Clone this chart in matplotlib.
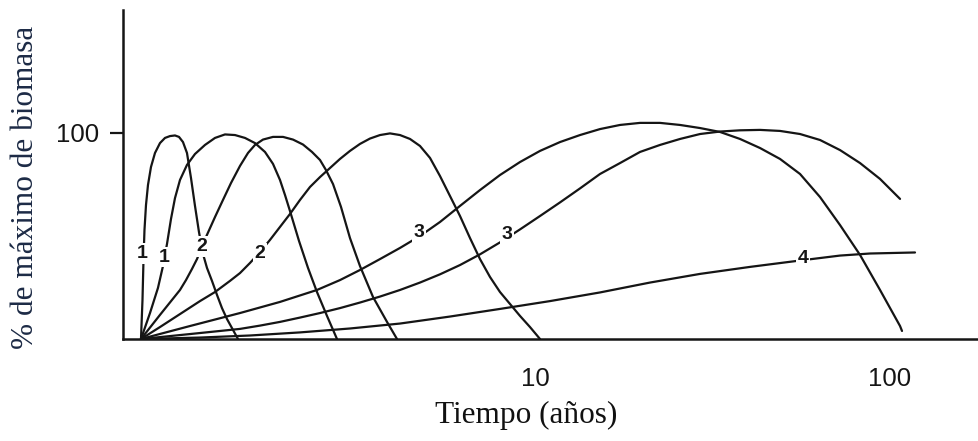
import matplotlib
matplotlib.use("Agg")
import matplotlib.pyplot as plt
from matplotlib.ticker import FixedLocator, NullLocator

# Tiempo (años) y porcentaje del máximo de biomasa de cada curva
t_1a = [0.7765, 0.7841, 0.7892, 0.7943, 0.8021, 0.8126, 0.8285, 0.8503, 0.8783, 0.9073,
        0.9372, 0.9681, 0.9936, 1.0196, 1.0464, 1.0739, 1.1022, 1.1311, 1.1609, 1.1914,
        1.2307, 1.2713, 1.3131, 1.3564, 1.4011, 1.4567]
b_1a = [0, 18.9, 38.3, 52.9, 65.0, 74.8, 83.5, 90.3, 95.1, 97.6,
        98.5, 98.8, 98.1, 95.6, 90.3, 78.2, 64.6, 51.9, 41.3, 34.5,
        28.2, 21.4, 15.0, 9.7, 5.3, 0]

t_1b = [0.7765, 0.8232, 0.8669, 0.8955, 0.9191, 0.9434, 0.9681, 1.0000, 1.0464, 1.1022,
        1.1761, 1.2549, 1.3389, 1.4287, 1.5244, 1.6265, 1.7355, 1.8281, 1.9129, 1.9760,
        2.0412, 2.1640, 2.2941, 2.4316, 2.5947, 2.7684]
b_1b = [0, 12.6, 24.8, 35.4, 46.1, 58.3, 68.4, 77.2, 84.5, 89.8,
        94.2, 97.6, 99.3, 99.0, 97.6, 95.1, 90.8, 85.0, 77.2, 69.9,
        62.1, 47.6, 34.5, 22.8, 11.2, 0]

t_2a = [0.7765, 0.8783, 1.0000, 1.0397, 1.0809, 1.1166, 1.1838, 1.2549, 1.3216, 1.3920,
        1.4757, 1.5544, 1.6265, 1.7131, 1.8281, 1.9508, 2.0815, 2.2206, 2.3542, 2.4796,
        2.5779, 2.6982, 2.8416, 3.0120, 3.2141, 3.4970, 3.8296, 4.0859]
b_2a = [0, 11.7, 23.8, 28.6, 34.0, 38.8, 49.5, 59.2, 67.5, 75.7,
        84.0, 90.3, 94.2, 96.8, 98.1, 98.1, 96.8, 94.4, 90.8, 86.9,
        82.0, 75.2, 64.1, 49.0, 35.4, 20.4, 8.3, 0]

t_2b = [0.7765, 0.8783, 1.0000, 1.1385, 1.2549, 1.3830, 1.4757, 1.5746, 1.6802, 1.7928,
        1.9129, 2.0412, 2.1780, 2.3240, 2.4796, 2.6458, 2.8228, 3.0120, 3.2141, 3.4293,
        3.6594, 3.9045, 4.1663, 4.4455, 4.7431, 5.0610, 5.4004, 5.7622, 6.1483, 6.5603,
        7.0000, 7.4691, 7.9692, 8.5033, 9.0733, 9.6813, 10.330]
b_2b = [0, 5.8, 12.1, 18.4, 22.8, 28.2, 32.0, 36.9, 42.2, 48.1,
        54.4, 60.7, 67.5, 73.8, 78.6, 83.0, 87.4, 91.3, 94.7, 97.3,
        99.0, 99.8, 99.0, 97.1, 93.7, 87.9, 79.1, 69.4, 59.7, 49.0,
        38.8, 30.1, 22.8, 17.0, 11.2, 5.8, 0]

t_3a = [0.7765, 1.0670, 1.4757, 1.9129, 2.4316, 2.8228, 3.2141, 3.6594, 4.1663, 4.7431,
        5.4004, 6.1483, 7.0000, 7.9692, 9.0733, 10.330, 11.761, 13.390, 15.245, 17.357,
        19.762, 22.499, 25.616, 29.164, 33.204, 37.803, 43.040, 49.002, 55.790, 63.518,
        72.317, 82.333, 93.73, 106.72, 108.09]
b_3a = [0, 6.3, 12.6, 18.0, 23.8, 28.6, 33.5, 38.8, 44.2, 50.0,
        56.8, 64.6, 72.3, 79.6, 85.9, 91.3, 95.6, 99.0, 101.9, 103.9,
        104.9, 104.9, 103.9, 102.4, 100.5, 97.1, 92.7, 87.4, 80.1, 68.9,
        55.3, 40.8, 23.8, 6.3, 3.9]

t_3b = [0.7765, 1.0670, 1.4757, 1.6802, 1.9129, 2.1780, 2.4796, 2.8228, 3.2141, 3.6594,
        4.1663, 4.7431, 5.4004, 6.1483, 7.0000, 7.9692, 9.0733, 10.330, 11.761, 13.390,
        15.245, 17.357, 19.762, 22.499, 25.616, 29.164, 33.204, 37.803, 43.040, 49.002,
        55.790, 63.518, 72.317, 82.333, 93.73, 106.72]
b_3b = [0, 2.4, 4.9, 6.5, 8.3, 10.4, 12.6, 15.0, 17.7, 20.6,
        23.8, 27.4, 31.4, 35.9, 41.1, 46.9, 53.2, 59.7, 66.3, 73.1,
        80.1, 85.4, 90.8, 94.2, 97.1, 99.5, 100.7, 101.3, 101.5, 101.0,
        99.5, 96.6, 91.7, 85.4, 77.7, 68.0]

t_4 = [0.7765, 1.1385, 1.5746, 2.1780, 3.0120, 4.1663, 5.7622, 7.9692, 11.022, 15.245,
       21.086, 29.164, 40.335, 55.790, 72.317, 87.850, 117.6]
b_4 = [0, 0.7, 1.7, 3.2, 5.1, 7.5, 10.9, 14.6, 18.4, 22.6,
       27.4, 31.6, 35.0, 38.1, 40.5, 41.5, 42.0]

curve_names = ["1", "1", "2", "2", "3", "3", "4"]
x_ticks = [10, 100]
x_tick_labels = ["10", "100"]
y_ticks = [100]
y_tick_labels = ["100"]

curves = [(t_1a, b_1a), (t_1b, b_1b), (t_2a, b_2a), (t_2b, b_2b),
          (t_3a, b_3a), (t_3b, b_3b), (t_4, b_4)]

# where each curve number sits (tiempo, %)
label_spots = [(0.782, 41.7), (0.902, 39.8), (1.153, 44.7), (1.680, 41.7),
               (4.713, 51.5), (8.341, 50.5), (56.87, 39.3)]

fig = plt.figure(figsize=(9.79, 4.41), dpi=100)
ax = fig.add_axes([123 / 979, 102 / 441, 856 / 979, 329 / 441])

ink = "#151515"
for t, b in curves:
    ax.plot(t, b, color=ink, lw=1.6, solid_capstyle="round",
            solid_joinstyle="round", zorder=2)

for name, (tx, ty) in zip(curve_names, label_spots):
    ax.text(tx, ty, name, ha="center", va="center", fontsize=14,
            fontweight="bold", family="Liberation Sans", color=ink, zorder=4,
            bbox=dict(boxstyle="square,pad=0.1", fc="white", ec="none"))

ax.set_xscale("log")
ax.set_xlim(0.691, 178.1)
ax.set_ylim(0, 159.7)

ax.xaxis.set_major_locator(FixedLocator(x_ticks))
ax.set_xticklabels(x_tick_labels)
ax.xaxis.set_minor_locator(NullLocator())
ax.yaxis.set_major_locator(FixedLocator(y_ticks))
ax.set_yticklabels(y_tick_labels)
ax.yaxis.set_minor_locator(NullLocator())

ax.tick_params(axis="x", length=0, pad=20, labelsize=18.5, labelcolor=ink)
ax.tick_params(axis="y", length=9.5, width=1.6, pad=8, labelsize=18.5,
               labelcolor=ink, color=ink)
for lab in ax.get_xticklabels() + ax.get_yticklabels():
    lab.set_family("Liberation Sans")

for side in ("top", "right"):
    ax.spines[side].set_visible(False)
for side in ("left", "bottom"):
    ax.spines[side].set_linewidth(1.8)
    ax.spines[side].set_color(ink)

ax.set_xlabel("Tiempo (años)", family="Liberation Serif", fontsize=22.5,
              color="#111111", va="center")
ax.xaxis.set_label_coords(0.471, -0.231)
ax.set_ylabel("% de máximo de biomasa", family="Liberation Serif", fontsize=22.5,
              color="#1c2a45", va="center")
ax.yaxis.set_label_coords(-0.114, 0.462)

fig.savefig("out.png", dpi=100, facecolor="white")
